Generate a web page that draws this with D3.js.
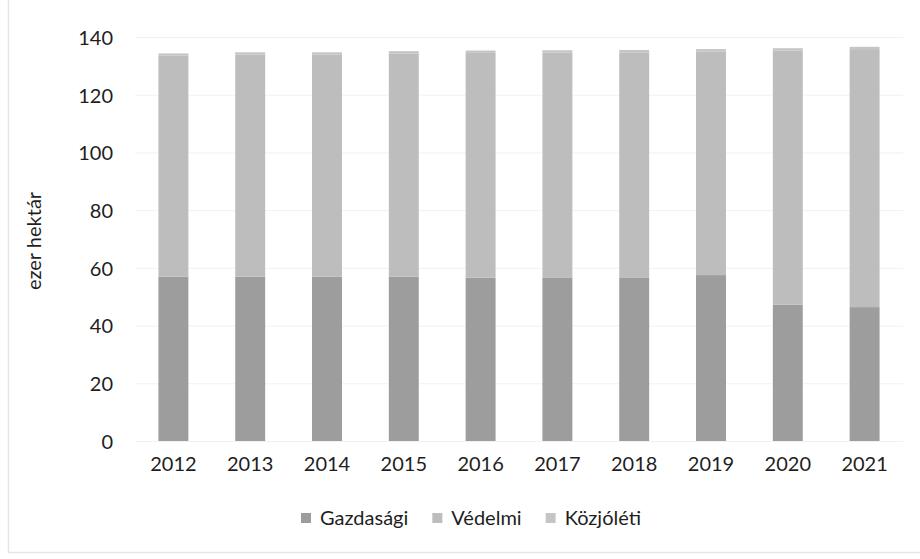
<!DOCTYPE html>
<html>
<head>
<meta charset="utf-8">
<script src="https://cdn.jsdelivr.net/npm/d3@7"></script>
<style>
  html, body { margin: 0; padding: 0; background: #ffffff; }
  svg { display: block; }
  text { font-family: Lato, "Open Sans", sans-serif; fill: #1e1e1e; }
</style>
</head>
<body>
<div id="chart"></div>
<script>
const years = ["2012", "2013", "2014", "2015", "2016", "2017", "2018", "2019", "2020", "2021"];
const seriesNames = ["Gazdasági", "Védelmi", "Közjóléti"];
const gazdasagi = [57.0, 57.0, 57.0, 57.0, 56.6, 56.7, 56.5, 57.5, 47.2, 46.4];
const vedelmi   = [76.5, 76.9, 76.9, 77.3, 77.9, 77.9, 78.2, 77.5, 88.1, 89.4];
const kozjoleti = [0.8, 0.8, 0.8, 0.8, 0.8, 0.8, 0.8, 0.8, 0.8, 0.8];
const yTicks = [0, 20, 40, 60, 80, 100, 120, 140];
const colors = ["#9d9d9d", "#bdbdbd", "#c5c5c5"];

const W = 920, H = 559;
const FS = "20px";
const svg = d3.select("#chart").append("svg").attr("width", W).attr("height", H);

// light frame
svg.append("path")
  .attr("d", "M8.5,-1 V552.5 H921")
  .attr("fill", "none").attr("stroke", "#e6e6e6").attr("stroke-width", 1.5);

const x = d3.scaleBand().domain(years).range([135, 903]).paddingInner(0.61).paddingOuter(0.305);
const y = d3.scaleLinear().domain([0, 140]).range([441, 37]);

// gridlines
svg.append("g").selectAll("line").data(yTicks).join("line")
  .attr("x1", 135).attr("x2", 903)
  .attr("y1", d => y(d) + 0.5).attr("y2", d => y(d) + 0.5)
  .attr("stroke", "#f1f1f1").attr("stroke-width", 1);

// y axis labels via d3 axis
const yAxis = svg.append("g").attr("transform", "translate(113,0)")
  .call(d3.axisLeft(y).tickValues(yTicks).tickSize(0).tickPadding(0));
yAxis.select(".domain").remove();
yAxis.selectAll("text").style("font-size", FS).attr("fill", "#1e1e1e")
  .attr("font-family", "Lato, 'Open Sans', sans-serif").attr("dy", "0.37em");

// x axis labels
const xAxis = svg.append("g").attr("transform", "translate(0,457)")
  .call(d3.axisBottom(x).tickSize(0).tickPadding(0));
xAxis.select(".domain").remove();
xAxis.selectAll("text").style("font-size", FS).attr("fill", "#1e1e1e")
  .attr("font-family", "Lato, 'Open Sans', sans-serif");

// stacked data
const table = years.map((yr, i) => ({
  year: yr, "Gazdasági": gazdasagi[i], "Védelmi": vedelmi[i], "Közjóléti": kozjoleti[i]
}));
const stack = d3.stack().keys(seriesNames)(table);

svg.append("g").selectAll("g").data(stack).join("g")
  .attr("fill", (d, i) => colors[i])
  .selectAll("rect").data(d => d).join("rect")
  .attr("x", d => x(d.data.year))
  .attr("width", x.bandwidth())
  .attr("y", d => y(d[1]))
  .attr("height", d => y(d[0]) - y(d[1]));

// y axis title
svg.append("text")
  .attr("transform", "translate(41,241) rotate(-90)")
  .attr("text-anchor", "middle")
  .style("font-size", FS)
  .text("ezer hektár");

// legend
const legend = svg.append("g").attr("transform", "translate(0,518)");
let lx = 301;
seriesNames.forEach((name, i) => {
  legend.append("rect").attr("x", lx).attr("y", -5).attr("width", 10).attr("height", 10).attr("fill", colors[i]);
  const t = legend.append("text").attr("x", lx + 19).attr("y", 0).attr("dy", "0.36em")
    .style("font-size", FS).text(name);
  lx = lx + 19 + t.node().getComputedTextLength() + 24;
});
</script>
</body>
</html>
